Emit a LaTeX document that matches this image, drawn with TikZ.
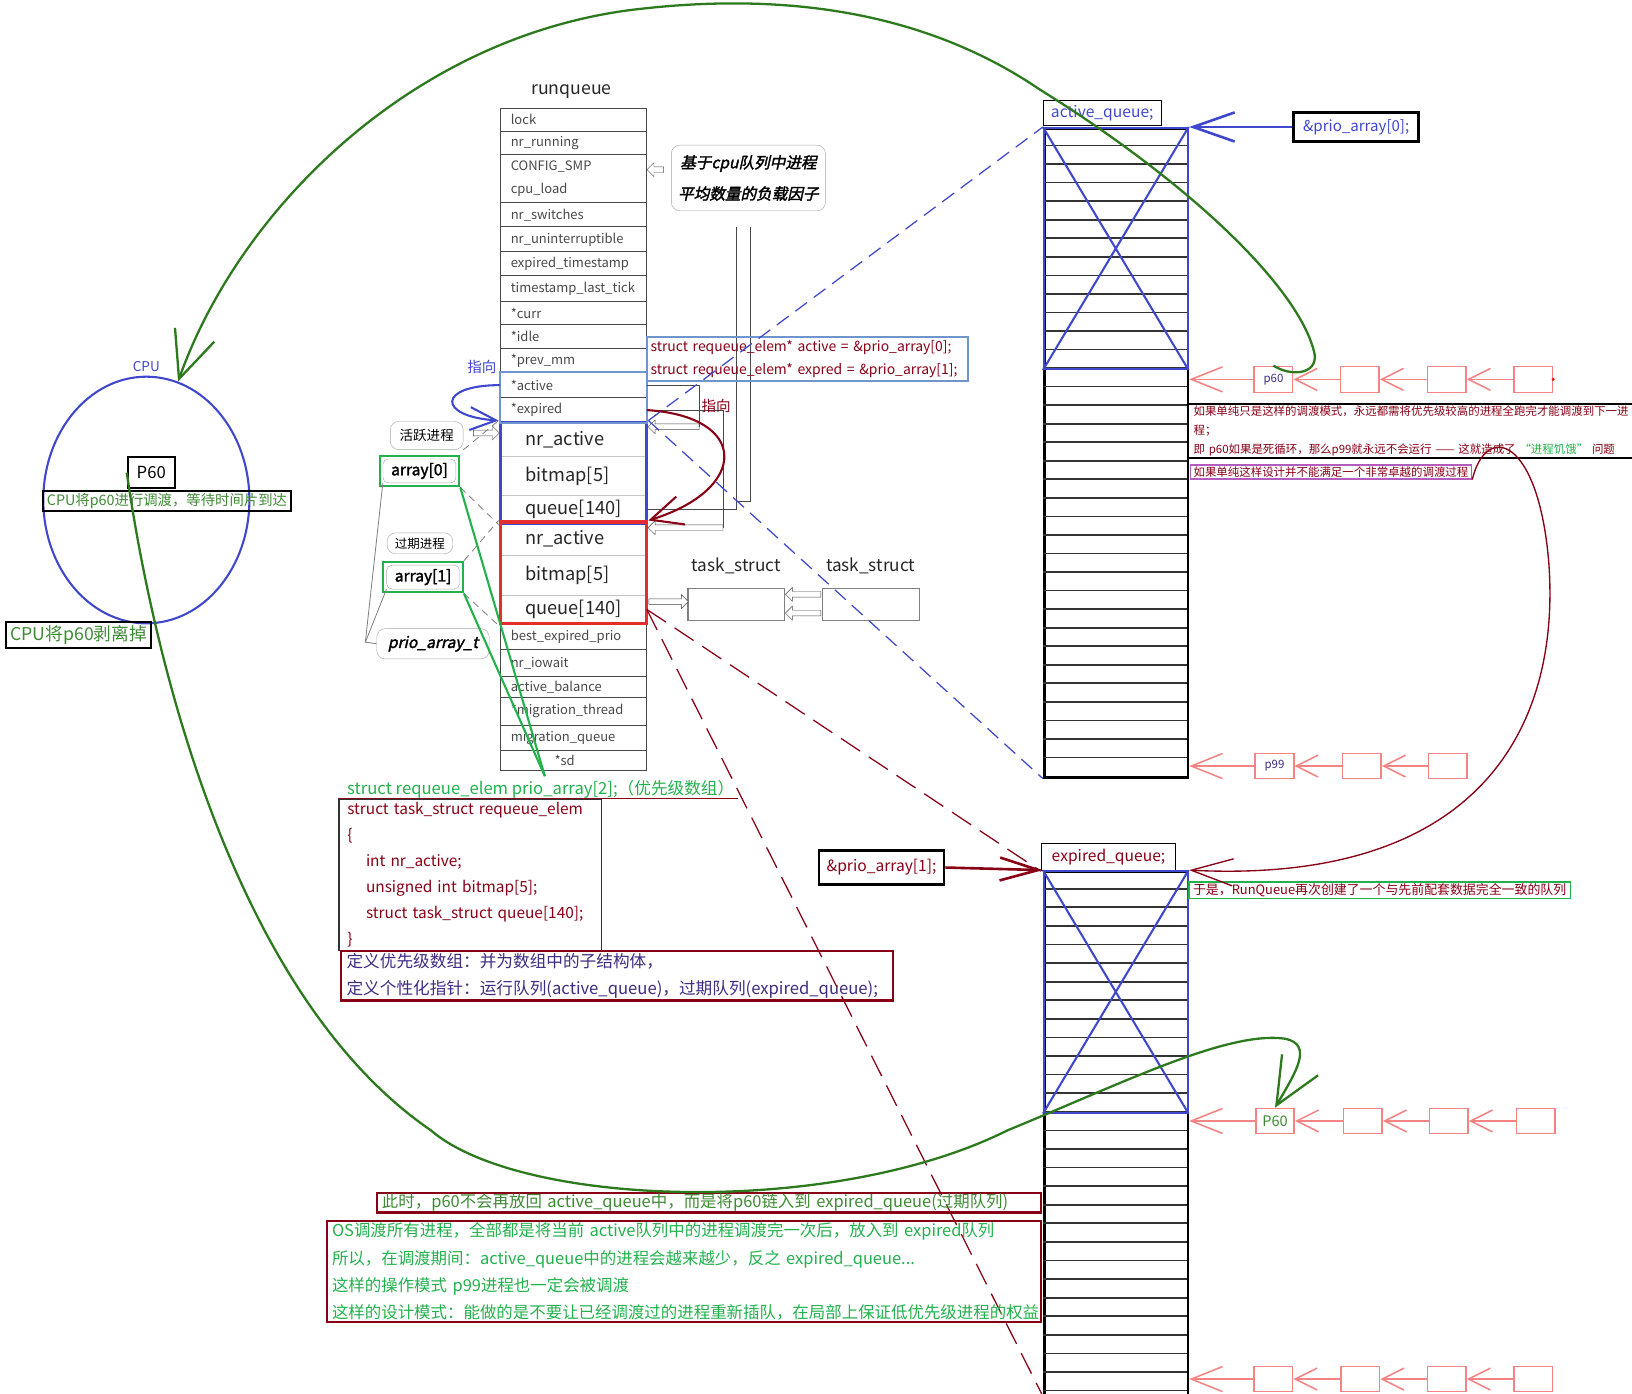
\documentclass[tikz,border=0pt]{standalone}
\usepackage{fontspec}
\setmainfont{Noto Sans CJK SC}
\newfontfamily\slantfont[FakeSlant=0.22,FakeBold=2]{Noto Sans CJK SC}
\newfontfamily\heavyfont[FakeBold=2]{Noto Sans CJK SC}
\usepackage{tikz}
\usetikzlibrary{shapes.geometric,shapes.arrows,arrows.meta,positioning,fit}

\definecolor{darkred}{RGB}{136,0,21}
\definecolor{indigo}{RGB}{63,72,204}
\definecolor{brightred}{RGB}{228,45,45}
\definecolor{rose}{RGB}{244,132,132}
\definecolor{grass}{RGB}{34,177,76}
\definecolor{leaf}{RGB}{62,138,52}
\definecolor{vine}{RGB}{45,122,30}
\definecolor{steel}{RGB}{112,148,204}
\definecolor{plum}{RGB}{178,92,190}
\definecolor{ink}{RGB}{64,42,130}
\definecolor{tablegray}{RGB}{72,72,72}

\tikzstyle{rqrow} =
        [
                rectangle,
                draw = tablegray,
                line width = 0.9pt,
                minimum width = 140pt,
                inner sep = 0pt
        ]
\tikzstyle{elemrow} =
        [
                rqrow,
                draw = gray!45
        ]
\tikzstyle{rqtext} =
        [
                anchor = west,
                align = left,
                inner xsep = 10pt,
                inner ysep = 0pt,
                text = tablegray,
                font = \fontsize{12.5}{22}\selectfont
        ]
\tikzstyle{elemtext} =
        [
                rqtext,
                inner xsep = 24pt,
                text = black!85,
                font = \fontsize{17.5}{20}\selectfont
        ]
\tikzstyle{bluearr} =
        [
                rectangle,
                draw = indigo,
                line width = 3pt,
                inner sep = 0pt
        ]
\tikzstyle{redarr} =
        [
                bluearr,
                draw = brightred
        ]
\tikzstyle{steelbox} =
        [
                rectangle,
                draw = steel,
                line width = 2pt,
                inner sep = 0pt
        ]
\tikzstyle{bubble} =
        [
                rectangle,
                draw = gray!70,
                rounded corners = 8pt,
                align = center,
                inner sep = 2pt
        ]
\tikzstyle{greenbox} =
        [
                rectangle,
                draw = grass,
                line width = 2pt,
                inner sep = 3pt
        ]
\tikzstyle{hollow} =
        [
                single arrow,
                draw = tablegray,
                fill = white,
                inner sep = 2.5pt,
                single arrow head extend = 4pt
        ]
\tikzstyle{thinline} =
        [
                draw = tablegray,
                line width = 0.8pt
        ]
\tikzstyle{dashline} =
        [
                draw = gray,
                line width = 0.8pt,
                dash pattern = on 7pt off 5pt
        ]
\tikzstyle{framebox} =
        [
                rectangle,
                draw = black,
                line width = 2pt,
                align = left,
                inner xsep = 5pt,
                inner ysep = 2pt
        ]
\tikzstyle{qcol} =
        [
                rectangle,
                draw = black,
                line width = 2.5pt,
                minimum width = 138pt,
                inner sep = 0pt
        ]
\tikzstyle{qline} =
        [
                draw = black!80,
                line width = 1.6pt
        ]
\tikzstyle{crossbox} =
        [
                rectangle,
                draw = indigo,
                line width = 2pt,
                minimum width = 138pt,
                inner sep = 0pt
        ]
\tikzstyle{pinkbox} =
        [
                rectangle,
                draw = rose,
                line width = 1.5pt,
                minimum width = 37pt,
                minimum height = 24pt,
                text = ink,
                font = \fontsize{11}{13}\selectfont
        ]
\tikzstyle{pinkline} =
        [
                draw = rose,
                line width = 1.5pt,
                -{Straight Barb[length = 21pt, width = 21pt]}
        ]
\tikzstyle{pinkbig} =
        [
                pinkline,
                -{Straight Barb[length = 30pt, width = 24pt]}
        ]
\tikzstyle{vinecurve} =
        [
                draw = vine,
                line width = 2.2pt,
                -{Straight Barb[length = 45pt, width = 40pt]}
        ]

\begin{document}
\begin{tikzpicture}[x = 1pt, y = -1pt]
    \useasboundingbox (0,0) rectangle (1568,1339);

    \node [font = \fontsize{17}{20}\selectfont, text = black!85] (rq-title) at (549,88) {runqueue};
    \foreach \ya/\yb/\nm/\txt in {
            104/126/lock/lock,
            126/148/running/nr\_running,
            148/195/smp/{CONFIG\_SMP\\cpu\_load},
            195/218/switches/nr\_switches,
            218/242/unint/nr\_uninterruptible,
            242/265/expts/expired\_timestamp,
            265/290/tick/timestamp\_last\_tick,
            290/312/curr/*curr,
            312/335/idle/*idle,
            335/358/prevmm/*prev\_mm,
            358/382/active/*active,
            382/406/expired/*expired,
            599/624/bestexp/best\_expired\_prio,
            624/650/iowait/nr\_iowait,
            650/670/balance/active\_balance,
            670/697/migthread/*migration\_thread,
            697/721/migqueue/migration\_queue,
            721/740/sd/\hspace*{42pt}*sd}
    {
        \node [rqrow, minimum height = {(\yb-\ya)*1pt}] (rq-\nm) at (551,{(\ya+\yb)/2}) {};
        \node [rqtext] at (rq-\nm.west) {\txt};
    }
    \foreach \ya/\yb/\nm/\txt in {
            406/439/b-nr/nr\_active,
            439/476/b-bitmap/bitmap[5],
            476/502/b-queue/queue[140],
            502/534/r-nr/nr\_active,
            534/572/r-bitmap/bitmap[5],
            572/599/r-queue/queue[140]}
    {
        \node [elemrow, minimum height = {(\yb-\ya)*1pt}] (\nm) at (551,{(\ya+\yb)/2}) {};
        \node [elemtext] at (\nm.west) {\txt};
    }
    \node [bluearr, fit = (b-nr) (b-queue)] (blue-arr) {};
    \node [redarr, fit = (r-nr) (r-queue)] (red-arr) {};
    \node [steelbox, fit = (rq-active) (rq-expired)] (ptr-rows) {};

    \node [bubble, minimum width = 148pt, minimum height = 63pt, font = \slantfont\fontsize{15}{30}\selectfont] (load-note) at (719,171) {基于cpu队列中进程\\平均数量的负载因子};
    \node [hollow, minimum height = 16pt, shape border rotate = 180] (ha-load) at (631,163) {};
    \coordinate (drop-a) at (708,218);
    \coordinate (drop-b) at (721,218);
    \coordinate (drop-c) at (708,482);
    \draw [thinline] (drop-a) |- (b-queue.east);
    \draw [thinline] (drop-b) |- (drop-c);

    \node [hollow, minimum height = 49pt, shape border rotate = 180] (ha-act) at (648.5,410) {};
    \node [hollow, minimum height = 72pt, shape border rotate = 180] (ha-exp) at (660,507) {};
    \draw [thinline] (rq-active.east) -| (ha-act.east);
    \draw [thinline] (rq-expired.east) -| (ha-exp.east);

    \node [rectangle, draw = steel, line width = 2pt, anchor = north west, align = left, text width = 302pt, inner xsep = 3pt, inner ysep = 3pt, text = darkred, font = \fontsize{13.4}{22}\selectfont] (ptr-box) at (621,323) {struct requeue\_elem* active = \&prio\_array[0];\\struct requeue\_elem* expred = \&prio\_array[1];};

    % 指向
    \node [text = indigo, font = \fontsize{14}{16}\selectfont] (point-a) at (463,353) {指向};
    \node [text = darkred, font = \fontsize{14}{16}\selectfont] (point-b) at (688,390) {指向};
    \draw [draw = indigo, line width = 2pt, -{Straight Barb[length = 25pt, width = 22pt]}] (rq-active.west) .. controls (420,370) and (420,400) .. (blue-arr.north west);
    \draw [draw = darkred, line width = 2pt, -{Straight Barb[length = 30pt, width = 28pt]}] (rq-expired.east) .. controls (720,400) and (720,470) .. (red-arr.north east);

    \node [rectangle, draw = gray, line width = 1pt, minimum width = 93pt, minimum height = 31pt] (task-a) at (707.5,580.5) {};
    \node [rectangle, draw = gray, line width = 1pt, minimum width = 93pt, minimum height = 31pt] (task-b) at (836.5,580.5) {};
    \node [above = 10pt of task-a, font = \fontsize{16.5}{18}\selectfont, text = black!85] (task-a-name) {task\_struct};
    \node [above = 10pt of task-b, font = \fontsize{16.5}{18}\selectfont, text = black!85] (task-b-name) {task\_struct};
    \node [hollow, minimum height = 38pt] (ha-task) at (641,578) {};
    \node [hollow, minimum height = 34pt, shape border rotate = 180] (ha-tt1) at (773,571) {};
    \node [hollow, minimum height = 34pt, shape border rotate = 180] (ha-tt2) at (773,589) {};

    \node [bubble, minimum width = 70pt, minimum height = 27pt, font = \fontsize{13}{15}\selectfont] (live-note) at (410,418.5) {活跃进程};
    \node [hollow, minimum height = 25pt] (ha-live) at (466,416) {};
    \node [bubble, rounded corners = 5pt, minimum width = 70pt, minimum height = 23pt, font = \heavyfont\fontsize{15}{17}\selectfont] (array0) at (403,452.5) {array[0]};
    \node [greenbox, fit = (array0)] (array0-g) {};
    \node [bubble, minimum width = 63pt, minimum height = 20pt, font = \fontsize{12}{14}\selectfont] (exp-note) at (403.5,522) {过期进程};
    \node [bubble, rounded corners = 5pt, minimum width = 70pt, minimum height = 23pt, font = \heavyfont\fontsize{15}{17}\selectfont] (array1) at (406.5,554.5) {array[1]};
    \node [greenbox, fit = (array1)] (array1-g) {};
    \node [bubble, minimum width = 108pt, minimum height = 29pt, font = \slantfont\fontsize{15}{17}\selectfont] (prio-t) at (416,618.5) {prio\_array\_t};
    \coordinate (brace-knee) at (351,617);
    \draw [thinline, draw = gray] (array0.south west) -- (brace-knee) -- (prio-t.west);
    \draw [thinline, draw = gray] (array1.south west) -- (brace-knee);
    \draw [dashline] (live-note.south east) -- (blue-arr.north west);
    \draw [dashline] (array0-g.south east) -- (blue-arr.south west);
    \draw [dashline] (array1-g.north east) -- (red-arr.north west);
    \draw [dashline] (array1-g.south east) -- (red-arr.south west);

    \node [anchor = west, text = grass, font = \fontsize{16}{18}\selectfont] (prio-decl) at (330,758) {struct requeue\_elem prio\_array[2];（优先级数组）};
    \draw [grass, line width = 2pt] (array0-g.south east) -- ([xshift = 4pt]prio-decl.north);
    \draw [grass, line width = 2pt] (array1-g.south east) -- ([xshift = 4pt]prio-decl.north);
    \node [framebox, draw = black!80, line width = 1.3pt, anchor = north west, text width = 236pt, inner xsep = 8pt, inner ysep = 3pt, text = darkred, font = \fontsize{14.8}{25}\selectfont] (struct-box) at (325,767) {struct task\_struct requeue\_elem\\\{\\\hspace*{18pt}int nr\_active;\\\hspace*{18pt}unsigned int bitmap[5];\\\hspace*{18pt}struct task\_struct queue[140];\\\}};
    \draw [darkred, line width = 1.5pt] (struct-box.north west) -- (struct-box.north west -| prio-decl.east);
    \node [framebox, draw = darkred, anchor = north west, text width = 520pt, text = ink, font = \fontsize{16}{26}\selectfont] (def-box) at (327,913) {定义优先级数组：并为数组中的子结构体，\\定义个性化指针：运行队列(active\_queue)，过期队列(expired\_queue);};

    % CPU
    \node [ellipse, draw = indigo, line width = 2pt, minimum width = 198pt, minimum height = 237pt] (cpu) at (140.6,480.4) {};
    \node [above = 0pt of cpu, text = indigo, font = \fontsize{13}{15}\selectfont] (cpu-name) {CPU};
    \node [framebox, inner sep = 0pt, minimum width = 45pt, minimum height = 30pt, font = \fontsize{16}{18}\selectfont] (cpu-p60) at (145.3,454) {P60};
    \node [framebox, anchor = north west, inner xsep = 4pt, inner ysep = 2pt, text = leaf, font = \fontsize{13.8}{15}\selectfont] (cpu-wait) at (40,471) {CPU将p60进行调渡，等待时间片到达};
    \node [framebox, anchor = north west, inner xsep = 4pt, inner ysep = 3pt, text = leaf, font = \fontsize{17}{19}\selectfont] (cpu-drop) at (5,597) {CPU将p60剥离掉};

    % active queue
    \node [framebox, line width = 1pt, anchor = north west, minimum width = 113pt, minimum height = 24pt, inner xsep = 6pt, inner ysep = 0pt, text = indigo, font = \fontsize{15}{17}\selectfont] (aq-label) at (1002,96) {active\_queue;};
    \node [qcol, minimum height = 623.6pt, anchor = north west] (active-col) at (1002,122) {};
    \foreach \i in {1,...,34}
        \draw [qline] (1002,{122+\i*17.817}) -- (1140,{122+\i*17.817});
    \node [crossbox, minimum height = 231.6pt, anchor = north west] (active-x) at (active-col.north west) {};
    \draw [indigo, line width = 2pt] (active-x.north west) -- (active-x.south east) (active-x.north east) -- (active-x.south west);
    \node [framebox, line width = 2.5pt, inner xsep = 5pt, minimum width = 120pt, minimum height = 28pt, text = indigo, font = \fontsize{14.5}{17}\selectfont] (prio0) at (1303,122) {\&prio\_array[0];};
    \draw [indigo, line width = 2.5pt, -{Straight Barb[length = 40pt, width = 28pt]}] (prio0.west) -- (active-col.north east);

    % expired queue
    \node [framebox, line width = 1pt, anchor = north west, minimum width = 129pt, minimum height = 26pt, inner xsep = 6pt, inner ysep = 0pt, text = darkred, font = \fontsize{15}{17}\selectfont] (eq-label) at (1000,810) {expired\_queue;};
    \node [qcol, minimum height = 503pt, anchor = north west] (expired-col) at (1002,836) {};
    \foreach \i in {1,...,28}
        \draw [qline] (1002,{836+\i*17.86}) -- (1140,{836+\i*17.86});
    \node [crossbox, minimum height = 232pt, anchor = north west] (expired-x) at (expired-col.north west) {};
    \draw [indigo, line width = 2pt] (expired-x.north west) -- (expired-x.south east) (expired-x.north east) -- (expired-x.south west);
    \node [framebox, line width = 2.5pt, inner xsep = 5pt, minimum width = 120pt, minimum height = 33pt, text = darkred, font = \fontsize{15}{17}\selectfont] (prio1) at (847,833.5) {\&prio\_array[1];};
    \draw [darkred, line width = 2.5pt, -{Straight Barb[length = 37pt, width = 22pt]}] (prio1.east) -- (expired-col.north west);

    % pointers from runqueue to the queues
    \draw [indigo, line width = 1.2pt, dash pattern = on 14pt off 8pt] (blue-arr.north east) -- (active-col.north west);
    \draw [indigo, line width = 1.2pt, dash pattern = on 14pt off 8pt] (blue-arr.north east) -- (active-col.south west);
    \draw [darkred, line width = 1.2pt, dash pattern = on 22pt off 10pt] (r-queue.east) -- (eq-label.south west);
    \draw [darkred, line width = 1.2pt, dash pattern = on 22pt off 10pt] (r-queue.east) -- (expired-col.south west);

    % process lists
    \node [pinkbox, minimum height = 25pt] (la-1) at (1223.5,364.5) {p60};
    \node [pinkbox, minimum height = 25pt] (la-2) at (1306.5,364.5) {};
    \node [pinkbox, minimum height = 25pt] (la-3) at (1390,364.5) {};
    \node [pinkbox, minimum height = 25pt] (la-4) at (1473,364.5) {};
    \fill [red] (la-4.east) circle (1.6pt);
    \draw [pinkline] (la-4) -- (la-3);
    \draw [pinkline] (la-3) -- (la-2);
    \draw [pinkline] (la-2) -- (la-1);
    \draw [pinkbig] (la-1) -- (la-1 -| active-col.east);

    \node [pinkbox] (lb-1) at (1224.5,736) {p99};
    \node [pinkbox] (lb-2) at (1308.5,736) {};
    \node [pinkbox] (lb-3) at (1391,736) {};
    \draw [pinkline] (lb-3) -- (lb-2);
    \draw [pinkline] (lb-2) -- (lb-1);
    \draw [pinkbig] (lb-1) -- (lb-1 -| active-col.east);

    \node [pinkbox, text = leaf, font = \fontsize{14}{16}\selectfont] (lc-1) at (1225,1077) {P60};
    \node [pinkbox] (lc-2) at (1309.5,1077) {};
    \node [pinkbox] (lc-3) at (1392,1077) {};
    \node [pinkbox] (lc-4) at (1475.5,1077) {};
    \draw [pinkline] (lc-4) -- (lc-3);
    \draw [pinkline] (lc-3) -- (lc-2);
    \draw [pinkline] (lc-2) -- (lc-1);
    \draw [pinkbig] (lc-1) -- (lc-1 -| expired-col.east);

    \node [pinkbox] (ld-1) at (1223.5,1325) {};
    \node [pinkbox] (ld-2) at (1307,1325) {};
    \node [pinkbox] (ld-3) at (1390,1325) {};
    \node [pinkbox] (ld-4) at (1473,1325) {};
    \draw [pinkline] (ld-4) -- (ld-3);
    \draw [pinkline] (ld-3) -- (ld-2);
    \draw [pinkline] (ld-2) -- (ld-1);
    \draw [pinkbig] (ld-1) -- (ld-1 -| expired-col.east);

    % notes
    \node [framebox, line width = 1.5pt, anchor = north west, text width = 440pt, inner xsep = 6pt, inner ysep = 2pt, text = darkred, font = \fontsize{11}{18}\selectfont] (note-a) at (1140,387.5) {如果单纯只是这样的调渡模式，永远都需将优先级较高的进程全跑完才能调渡到下一进\\程；\\即 p60如果是死循环，那么p99就永远不会运行 —— 这就造成了 \textcolor{grass}{“进程饥饿”} 问题};
    \node [framebox, draw = plum, line width = 1.5pt, anchor = north west, inner xsep = 3pt, inner ysep = 1.5pt, text = darkred, font = \fontsize{11}{13}\selectfont] (note-b) at (1143,446) {如果单纯这样设计并不能满足一个非常卓越的调渡过程};
    \node [framebox, draw = grass, line width = 1.5pt, anchor = north west, inner xsep = 4pt, inner ysep = 1.5pt, text = darkred, font = \fontsize{12.4}{15}\selectfont] (note-c) at (1141.5,846.5) {于是，RunQueue再次创建了一个与先前配套数据完全一致的队列};
    \draw [darkred, line width = 1.3pt, -{Straight Barb[length = 40pt, width = 26pt]}] (note-b.south east) .. controls (1428,405) and (1478,420) .. (1488,540) .. controls (1500,700) and (1420,850) .. (expired-col.north east);

    \node [framebox, draw = darkred, anchor = north west, text width = 628pt, inner ysep = 1pt, text = leaf, font = \fontsize{15.8}{20}\selectfont] (now-box) at (361,1145) {此时，p60不会再放回 active\_queue中，而是将p60链入到 expired\_queue(过期队列)};
    \node [framebox, draw = darkred, anchor = north west, text width = 676pt, inner ysep = 2pt, text = grass, font = \fontsize{15.8}{26}\selectfont] (os-box) at (313,1172) {OS调渡所有进程，全部都是将当前 active队列中的进程调渡完一次后，放入到 expired队列\\所以，在调渡期间：active\_queue中的进程会越来越少，反之 expired\_queue...\\这样的操作模式 p99进程也一定会被调渡\\这样的设计模式：能做的是不要让已经调渡过的进程重新插队，在局部上保证低优先级进程的权益};

    % p60 path
    \draw [vinecurve] (la-1.north) .. controls (1240,362) and (1266,360) .. (1263,340)
        .. controls (1250,280) and (1150,180) .. (999,86)
        .. controls (880,5) and (740,-5) .. (620,8)
        .. controls (400,30) and (230,200) .. (cpu.75);
    \draw [vinecurve] (cpu-p60.west) .. controls (150,650) and (230,960) .. (414,1086)
        .. controls (500,1160) and (800,1170) .. (968,1086)
        .. controls (1080,1040) and (1180,990) .. (1235,998)
        .. controls (1262,1004) and (1245,1030) .. (lc-1.north);
\end{tikzpicture}
\end{document}
